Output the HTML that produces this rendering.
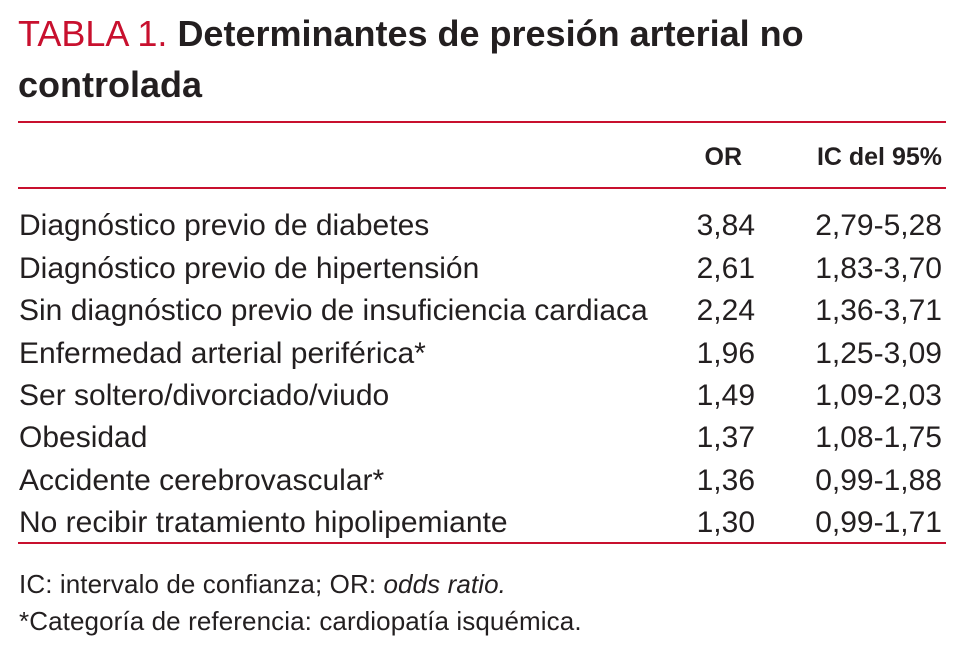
<!DOCTYPE html>
<html><head><meta charset="utf-8">
<style>
html,body{margin:0;padding:0;background:#fff;}
body{width:963px;height:653px;position:relative;overflow:hidden;font-family:"Liberation Sans Narrow","Liberation Sans",sans-serif;color:#231f20;}
.t{position:absolute;white-space:nowrap;}
.rule{position:absolute;left:18px;width:928px;height:2px;background:#c8102e;}
.row{position:absolute;left:0;width:963px;height:40px;line-height:40px;font-size:30px;}
.row span{position:absolute;white-space:nowrap;}
.lab{left:19px;}
.or{right:208px;}
.ic{right:21px;}
</style></head><body>
<div class="t" style="left:18px;top:15px;font-size:36px;line-height:38px;"><span style="color:#c8102e">TABLA 1.</span> <b>Determinantes de presión arterial no</b></div>
<div class="t" style="left:18px;top:66px;font-size:36px;line-height:38px;font-weight:bold;">controlada</div>
<div class="rule" style="top:121px;"></div>
<div class="t" style="right:221px;top:142px;font-size:25px;line-height:30px;font-weight:bold;">OR</div>
<div class="t" style="right:21px;top:142px;font-size:25px;line-height:30px;font-weight:bold;">IC del 95%</div>
<div class="rule" style="top:187px;"></div>

<div class="row" style="top:206px"><span class="lab">Diagnóstico previo de diabetes</span><span class="or">3,84</span><span class="ic">2,79-5,28</span></div>
<div class="row" style="top:249px"><span class="lab">Diagnóstico previo de hipertensión</span><span class="or">2,61</span><span class="ic">1,83-3,70</span></div>
<div class="row" style="top:291px"><span class="lab">Sin diagnóstico previo de insuficiencia cardiaca</span><span class="or">2,24</span><span class="ic">1,36-3,71</span></div>
<div class="row" style="top:334px"><span class="lab">Enfermedad arterial periférica*</span><span class="or">1,96</span><span class="ic">1,25-3,09</span></div>
<div class="row" style="top:376px"><span class="lab">Ser soltero/divorciado/viudo</span><span class="or">1,49</span><span class="ic">1,09-2,03</span></div>
<div class="row" style="top:418px"><span class="lab">Obesidad</span><span class="or">1,37</span><span class="ic">1,08-1,75</span></div>
<div class="row" style="top:461px"><span class="lab">Accidente cerebrovascular*</span><span class="or">1,36</span><span class="ic">0,99-1,88</span></div>
<div class="row" style="top:503px"><span class="lab">No recibir tratamiento hipolipemiante</span><span class="or">1,30</span><span class="ic">0,99-1,71</span></div>

<div class="rule" style="top:542px;"></div>
<div class="t" style="left:19px;top:569px;font-size:26px;line-height:30px;letter-spacing:0.1px;">IC: intervalo de confianza; OR: <i>odds ratio.</i></div>
<div class="t" style="left:19px;top:606px;font-size:26px;line-height:30px;letter-spacing:0.1px;">*Categoría de referencia: cardiopatía isquémica.</div>
</body></html>
